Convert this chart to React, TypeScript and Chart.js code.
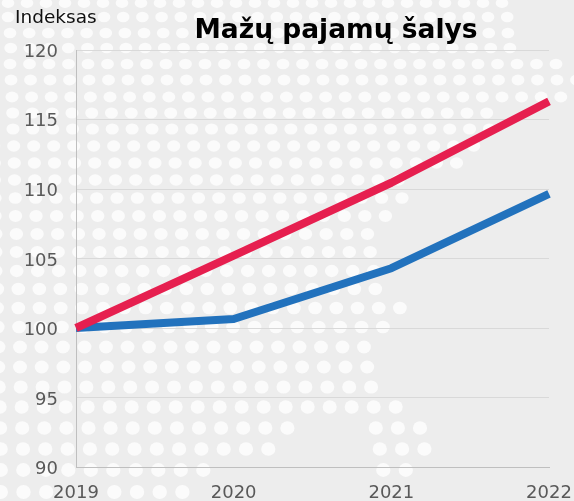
import React, { useEffect, useRef } from "react";
import { Chart, registerables } from "chart.js";

Chart.register(...registerables);

const categories = ["2019", "2020", "2021", "2022"];
const mazuPajamuA = [100, 100.65, 104.3, 109.65];
const mazuPajamuB = [100, 105.2, 110.45, 116.3];
const chartTitle = "Mažų pajamų šalys";
const yAxisLabel = "Indeksas";

// Decorative background dot rows: [y, first x, step, last x, gap start, gap end]
const dotRows: number[][] = [
  [3, 8, 19, 520, 0, 0],
  [17, 8, 19.2, 524, 0, 0],
  [33, 10, 19.15, 527, 0, 0],
  [48, 10.7, 19.2, 512, 0, 0],
  [64, 10, 19.5, 575, 0, 0],
  [80, 11, 19.5, 578, 0, 0],
  [97, 12, 19.6, 565, 0, 0],
  [113, 12.7, 19.75, 490, 0, 0],
  [129, 13, 19.85, 490, 0, 0],
  [146, 13.7, 20, 476, 0, 0],
  [163, 14.3, 20.1, 459, 0, 0],
  [180, 14.5, 20.2, 410, 0, 0],
  [198, 15.3, 20.35, 405, 0, 0],
  [216, 15.5, 20.55, 388, 0, 0],
  [234, 16.4, 20.65, 369, 0, 0],
  [252, 16.5, 20.8, 372, 0, 0],
  [271, 16.7, 21, 376, 0, 0],
  [289, 18.3, 21, 378, 0, 0],
  [308, 18.3, 21.2, 403, 0, 0],
  [327, 19.1, 21.4, 385, 0, 0],
  [347, 20, 21.5, 366, 0, 0],
  [367, 20, 21.7, 369, 0, 0],
  [387, 20.7, 21.9, 372, 0, 0],
  [407, 21.7, 22, 397, 0, 0],
  [428, 22.2, 22.1, 422, 291, 372],
  [449, 23, 22.3, 426, 270, 376],
  [470, 23.3, 22.5, 407, 205, 380],
  [492, 23.5, 22.7, 184, 50, 110],
];

const backgroundPlugin = {
  id: "dottedBackground",
  beforeDraw(chart: any) {
    const { ctx, width, height } = chart;
    ctx.save();
    ctx.fillStyle = "#ededed";
    ctx.fillRect(0, 0, width, height);
    ctx.fillStyle = "#fbfbfb";
    for (const [y, x0, dx, xEnd, gapA, gapB] of dotRows) {
      const rx = 6.3 + (y / 500) * 0.9;
      const ry = 5.1 + (y / 500) * 1.9;
      for (let i = -1; x0 + i * dx <= xEnd; i++) {
        const x = x0 + i * dx;
        if (gapB > 0 && x > gapA && x < gapB) continue;
        ctx.beginPath();
        ctx.ellipse(x, y, rx, ry, 0, 0, Math.PI * 2);
        ctx.fill();
      }
    }
    // Nudge the value labels down to sit on their grid lines
    for (const item of chart.scales.y.getLabelItems()) {
      item.options.translation = [item.options.translation[0], Math.round(chart.scales.y.getPixelForValue(Number(item.label))) + 2];
    }
    ctx.restore();
  },
};

const textPlugin = {
  id: "headerTexts",
  afterDraw(chart: any) {
    const { ctx } = chart;
    ctx.save();
    ctx.textBaseline = "alphabetic";
    ctx.textAlign = "center";
    ctx.fillStyle = "#000000";
    ctx.font = 'bold 26.5px "DejaVu Sans"';
    ctx.fillText(chartTitle, 336, 38);
    ctx.textAlign = "left";
    ctx.fillStyle = "#111111";
    ctx.font = '18.5px "DejaVu Sans"';
    ctx.fillText(yAxisLabel, 15, 23);
    ctx.restore();
  },
};

export default function App() {
  const ref = useRef<HTMLCanvasElement>(null);
  useEffect(() => {
    const chart = new Chart(ref.current as HTMLCanvasElement, {
      type: "line",
      data: {
        labels: categories,
        datasets: [
          { label: "B", data: mazuPajamuB, borderColor: "#e61f4f", borderWidth: 8, pointRadius: 0, tension: 0, borderCapStyle: "butt", borderJoinStyle: "round" },
          { label: "A", data: mazuPajamuA, borderColor: "#2272bd", borderWidth: 8, pointRadius: 0, tension: 0, borderCapStyle: "butt", borderJoinStyle: "round" },
        ],
      },
      options: {
        responsive: false,
        animation: false,
        layout: { padding: { left: 0, top: 50, right: 25, bottom: 0 } },
        plugins: { legend: { display: false }, title: { display: false }, tooltip: { enabled: false } },
        scales: {
          x: {
            type: "category",
            offset: false,
            grid: { display: false, drawTicks: false },
            border: { display: true, color: "#bfbfbf", width: 1 },
            ticks: { color: "#595959", font: { family: "DejaVu Sans", size: 18 }, padding: 16, maxRotation: 0, autoSkip: false },
            afterFit(scale: any) { scale.height = 34; scale.paddingLeft = 0; scale.paddingRight = 0; },
          },
          y: {
            min: 90,
            max: 120,
            grid: { color: "#d9d9d9", lineWidth: 1, drawTicks: false },
            border: { display: true, color: "#bfbfbf", width: 1 },
            ticks: { stepSize: 5, color: "#595959", font: { family: "DejaVu Sans", size: 18 }, padding: 18 },
            afterFit(scale: any) { scale.width = 76; scale.paddingTop = 0; scale.paddingBottom = 0; },
          },
        },
      },
      plugins: [backgroundPlugin, textPlugin],
    } as any);
    return () => chart.destroy();
  }, []);
  return (
    <div style={{ position: "fixed", left: 0, top: 0, width: 574, height: 501, overflow: "hidden" }}>
      <canvas ref={ref} width={574} height={501} style={{ display: "block" }} />
    </div>
  );
}
